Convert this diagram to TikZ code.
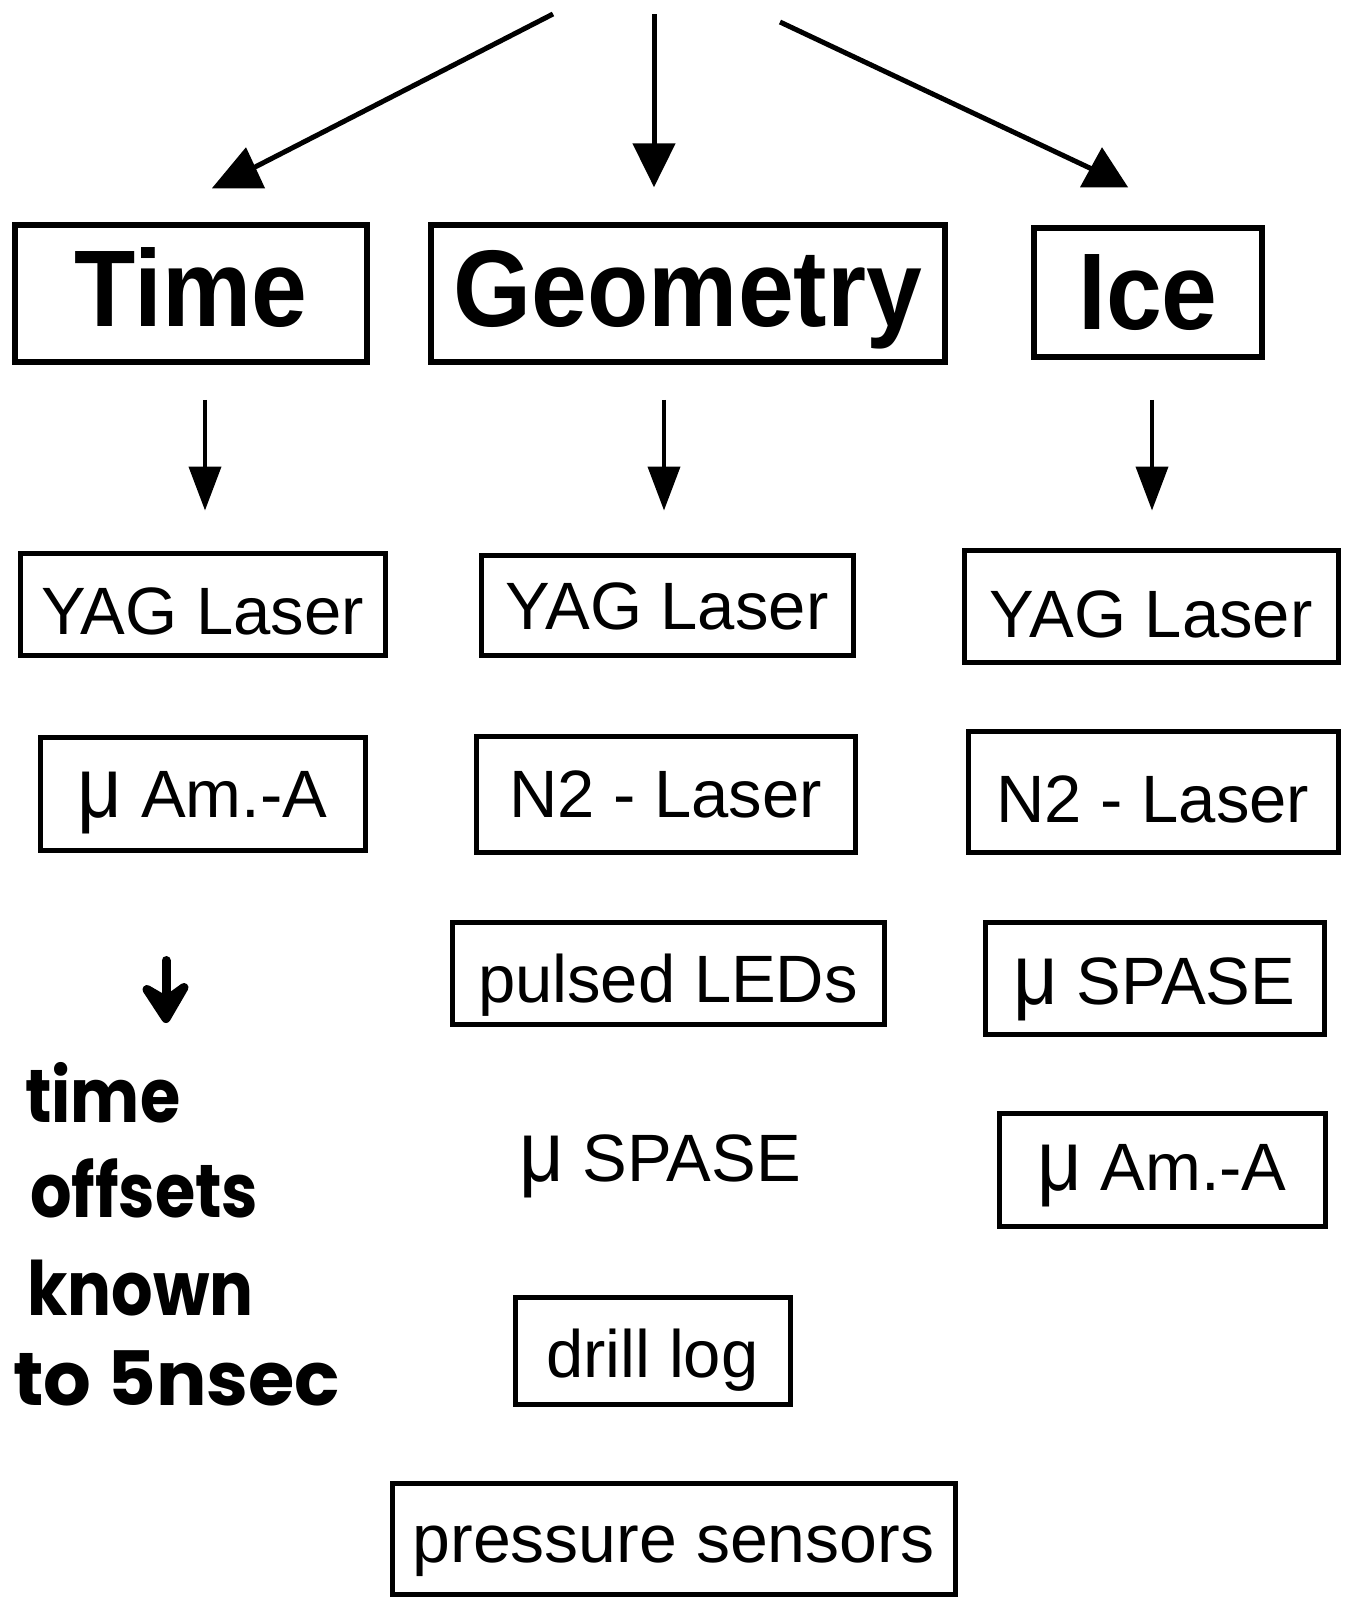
\documentclass[tikz,border=0pt]{standalone}
\usepackage{fontspec}
\setmainfont{Liberation Sans}
\newfontfamily\headfont{Liberation Sans}[FakeStretch=0.92]
\newfontfamily\handfont{Poppins}[FakeStretch=0.87]
\newfontfamily\handwide{Poppins}
\newfontfamily\mufont{Liberation Sans}[FakeStretch=0.9]
\newcommand\bigmu{{\mufont\fontsize{86}{86}\selectfont μ}}
\usetikzlibrary{arrows.meta,calc}

\begin{document}
\begin{tikzpicture}[x=1pt,y=-1pt,
  box/.style={draw,line width=5pt,inner sep=0pt,anchor=center,
    text height=57pt,text depth=10pt,
    font=\fontsize{67}{70}\selectfont},
  headbox/.style={draw,line width=5.5pt,inner sep=0pt,anchor=center,
    text height=85pt,text depth=20pt,
    font=\headfont\bfseries\fontsize{109}{110}\selectfont},
  plain/.style={inner sep=0pt,anchor=center,text height=57pt,text depth=10pt,
    font=\fontsize{67}{70}\selectfont},
  hand/.style={inner sep=0pt,anchor=base west,
    font=\handfont\bfseries\fontsize{75}{90}\selectfont},
  arr/.style={line width=4pt,-{Triangle[length=44pt,width=32pt]}},
  toparr/.style={line width=5pt,-{Triangle[length=44pt,width=42pt]}},
  stroke/.style={line width=5pt},
  handstroke/.style={line width=9pt,line cap=round,line join=round},
]
\useasboundingbox (0,0) rectangle (1345,1598);

% ---- top level categories
\node[headbox,minimum width=352pt,minimum height=137pt] (time) at (191,293.5) {Time};
\node[headbox,minimum width=514pt,minimum height=137pt] (geom) at (688,293.5) {Geometry};
\node[headbox,minimum width=228pt,minimum height=129pt,text height=93pt] (ice) at (1148,292.5) {Ice};

% ---- Time column
\node[box,minimum width=365pt,minimum height=102pt,text height=71pt] (yagT) at (202.5,604) {YAG Laser};
\node[box,minimum width=325pt,minimum height=113pt] (amT) at (202.5,793.5) {\bigmu\ Am.-A};

% ---- Geometry column
\node[box,minimum width=372pt,minimum height=100pt,text height=59pt] (yagG) at (667,605) {YAG Laser};
\node[box,minimum width=379pt,minimum height=116pt] (n2G) at (665.5,794) {N2 - Laser};
\node[box,minimum width=432pt,minimum height=102pt,text height=69pt] (ledG) at (668,973) {pulsed LEDs};
\node[plain] (spaseG) at (660,1158) {\bigmu\ SPASE};
\node[box,minimum width=275pt,minimum height=107pt,text height=63pt] (drill) at (652.5,1350.5) {drill log};
\node[box,minimum width=563pt,minimum height=111pt,font=\fontsize{68}{70}\selectfont] (press) at (673.5,1538.5) {pressure sensors};

% ---- Ice column
\node[box,minimum width=374pt,minimum height=112pt,text height=73pt] (yagI) at (1151,606) {YAG Laser};
\node[box,minimum width=370pt,minimum height=121pt,text height=71pt] (n2I) at (1153,791.5) {N2 - Laser};
\node[box,minimum width=339pt,minimum height=112pt,text height=63pt] (spaseI) at (1154.5,978) {\bigmu\ SPASE};
\node[box,minimum width=326pt,minimum height=113pt,text height=51pt] (amI) at (1162,1169.5) {\bigmu\ Am.-A};

% ---- handwritten note under the Time column
\node[hand] (note1) at (25,1122) {time};
\node[hand] (note2) at (30,1217) {offsets};
\node[hand] (note3) at (27,1315) {known};
\node[hand,font=\handwide\bfseries\fontsize{75}{90}\selectfont] (note4) at (13,1405) {to 5nsec};

% ---- arrows from the top
\coordinate (srcL) at (553,14);
\coordinate (srcM) at (654,14);
\coordinate (srcR) at (780,22);
\coordinate (endL) at ($(time.north)+(50,-48)$);
\coordinate (endM) at ($(geom.north)+(-34,-35)$);
\coordinate (endR) at ($(ice.north)+(-45,-51)$);
\draw[stroke] (srcL) -- (endL);
\fill ($(endL)+(5,-27)$) -- ($(endL)+(-29,14)$) -- ($(endL)+(24,14)$) -- cycle;
\draw[toparr] (srcM) -- (endM);
\draw[stroke] (srcR) -- (endR);
\fill ($(endR)+(-1,-27)$) -- ($(endR)+(-23,13)$) -- ($(endR)+(25,13)$) -- cycle;

% ---- arrows from the categories to their methods
\draw[arr] ($(time.south)+(14,35)$) -- ($(yagT.north)+(2.5,-40)$);
\draw[arr] ($(geom.south)+(-24,35)$) -- ($(yagG.north)+(-3,-42)$);
\draw[arr] ($(ice.south)+(4,40)$) -- ($(yagI.north)+(1,-37)$);

% ---- hand-drawn arrow to the note
\coordinate (hs) at ($(amT.south)+(-36.5,108)$);
\coordinate (he) at ($(hs)+(0,44)$);
\draw[handstroke] (hs) -- (he);
\filldraw[handstroke] ($(he)+(-19,-15)$) -- ($(he)+(0,14)$) -- ($(he)+(18,-17)$) -- ($(he)+(0,-4)$) -- cycle;
\end{tikzpicture}
\end{document}
